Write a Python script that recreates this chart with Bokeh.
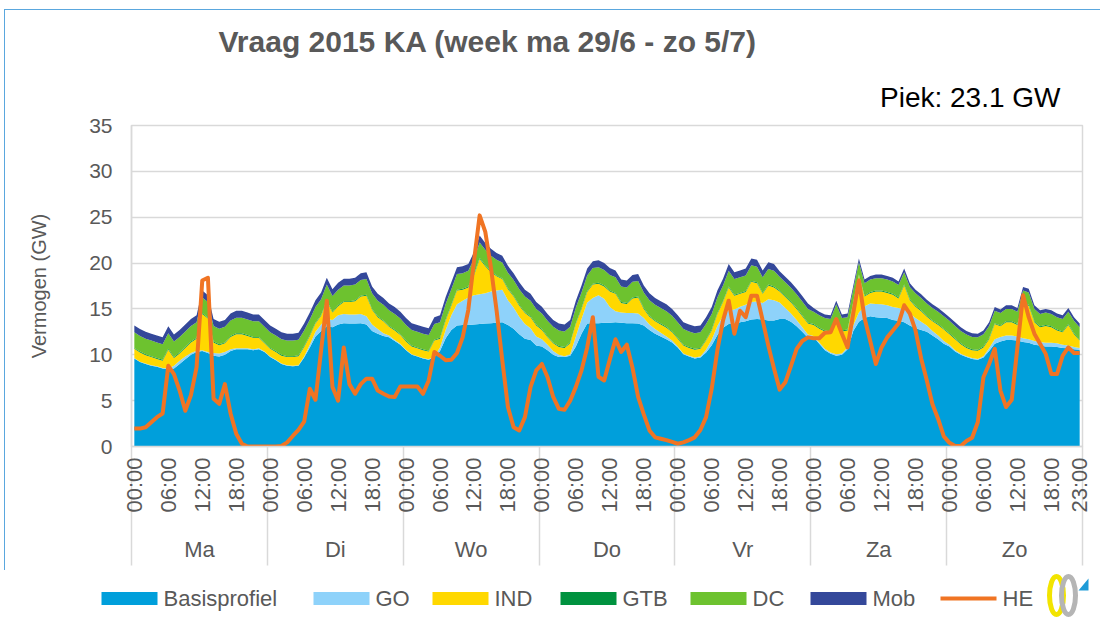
import math
from bokeh.plotting import figure
from bokeh.models import ColumnDataSource, Range1d, FixedTicker, LinearAxis, Title
from bokeh.core.properties import value
from bokeh.embed import file_html
from bokeh.resources import INLINE

# ---------------- data (GW, hourly, Ma 00:00 .. Zo 23:00) ----------------
days = ["Ma", "Di", "Wo", "Do", "Vr", "Za", "Zo"]
tick_hours = ["00:00", "06:00", "12:00", "18:00"]
last_label = "23:00"

basis = [
    9.6, 9.2, 9.0, 8.8, 8.7, 8.5, 8.4, 8.5, 9.0, 9.5, 10.0, 10.3, 10.4, 10.2, 9.9, 9.8, 10.0, 10.4, 10.6, 10.6, 10.6, 10.5, 10.6, 10.3,
    9.75, 9.4, 9.0, 8.8, 8.75, 8.8, 9.7, 10.8, 12.0, 12.6, 13.1, 13.0, 13.3, 13.45, 13.4, 13.4, 13.45, 13.3, 12.6, 12.3, 12.05, 11.9, 11.5, 11.1,
    10.5, 10.0, 9.8, 9.6, 9.45, 9.75, 10.4, 11.8, 12.7, 13.2, 13.25, 13.25, 13.3, 13.35, 13.4, 13.45, 13.5, 13.55, 13.25, 12.85, 12.25, 11.75, 11.6, 11.0,
    10.9, 10.5, 10.0, 9.75, 9.75, 9.9, 10.9, 12.3, 13.4, 13.45, 13.45, 13.5, 13.5, 13.55, 13.5, 13.45, 13.45, 13.4, 13.2, 12.7, 12.3, 12.0, 11.7, 11.35,
    10.8, 10.05, 9.8, 9.6, 9.7, 10.25, 11.05, 12.15, 12.95, 13.35, 13.35, 13.55, 13.65, 13.85, 13.9, 13.85, 13.75, 13.75, 13.9, 13.9, 13.6, 13.1, 12.5, 11.85,
    11.9, 11.2, 10.5, 10.1, 9.9, 10.0, 10.6, 12.6, 13.6, 14.0, 14.2, 14.1, 14.05, 14.0, 13.8, 13.7, 13.55, 13.2, 12.9, 12.7, 12.5, 12.1, 11.7, 11.2,
    10.9, 10.35, 10.0, 9.75, 9.55, 9.45, 9.7, 10.4, 11.2, 11.45, 11.6, 11.6, 11.55, 11.4, 11.3, 11.1, 11.0, 10.9, 10.9, 10.85, 10.75, 10.7, 10.6, 10.55,
]
go = [
    0.05, 0.05, 0.05, 0.05, 0.05, 0.05, 0.1, 0.3, 0.35, 0.3, 0.2, 0.15, 0.1, 0.1, 0.3, 0.35, 0.3, 0.2, 0.1, 0.1, 0.1, 0.1, 0.1, 0.05,
    0.05, 0.05, 0.05, 0.05, 0.05, 0.05, 0.1, 0.3, 0.5, 0.7, 0.8, 0.8, 1.0, 1.0, 1.0, 1.0, 1.0, 0.9, 0.7, 0.5, 0.3, 0.2, 0.1, 0.1,
    0.05, 0.05, 0.05, 0.05, 0.05, 0.1, 0.4, 0.9, 1.6, 2.3, 2.65, 3.0, 3.2, 3.25, 3.3, 3.45, 3.5, 3.55, 2.7, 2.3, 1.9, 1.6, 1.3, 1.0,
    0.8, 0.6, 0.4, 0.25, 0.1, 0.15, 1.1, 1.6, 2.3, 2.75, 3.05, 2.6, 1.7, 1.2, 1.1, 1.1, 1.1, 1.1, 0.8, 0.6, 0.5, 0.4, 0.3, 0.2,
    0.1, 0.1, 0.1, 0.1, 0.1, 0.3, 0.6, 1.0, 1.3, 1.5, 1.6, 1.7, 1.8, 1.9, 1.9, 1.8, 2.3, 2.2, 1.8, 1.2, 0.9, 0.7, 0.5, 0.35,
    0.15, 0.15, 0.15, 0.15, 0.15, 0.15, 0.2, 0.6, 1.0, 1.3, 1.4, 1.45, 1.45, 1.4, 1.4, 1.4, 1.4, 1.3, 1.1, 0.9, 0.7, 0.5, 0.4, 0.3,
    0.2, 0.15, 0.1, 0.1, 0.1, 0.1, 0.15, 0.3, 0.5, 0.5, 0.5, 0.5, 0.45, 0.4, 0.4, 0.4, 0.4, 0.4, 0.4, 0.4, 0.35, 0.3, 0.25, 0.2,
]
ind = [
    1.0, 1.0, 0.9, 0.9, 0.8, 0.8, 2.05, 0.85, 0.8, 0.95, 1.15, 1.3, 3.95, 3.65, 1.15, 0.9, 0.95, 1.35, 1.55, 1.55, 1.35, 1.25, 1.15, 0.9,
    0.85, 0.85, 0.85, 0.9, 0.95, 1.0, 1.05, 0.95, 0.9, 0.95, 1.95, 0.8, 1.0, 1.3, 1.35, 1.45, 1.9, 2.25, 1.6, 1.3, 1.3, 0.95, 1.05, 0.95,
    0.9, 0.85, 0.85, 0.85, 0.85, 1.7, 0.95, 1.05, 1.05, 1.5, 1.2, 1.1, 2.15, 3.85, 2.95, 2.1, 1.55, 1.15, 1.2, 1.2, 1.2, 1.2, 1.2, 1.2,
    1.0, 0.8, 0.85, 0.85, 0.9, 1.2, 1.35, 1.1, 1.15, 1.45, 1.25, 1.35, 1.7, 1.9, 1.05, 1.0, 1.6, 1.75, 1.0, 0.85, 0.85, 0.9, 0.95, 0.9,
    0.85, 0.85, 0.85, 0.85, 0.85, 1.0, 1.0, 1.3, 1.5, 2.5, 1.5, 1.4, 1.4, 2.2, 2.0, 1.0, 1.5, 1.4, 1.2, 1.2, 1.2, 1.2, 1.2, 1.2,
    1.2, 1.5, 1.9, 2.2, 4.0, 2.4, 1.85, 2.45, 4.05, 1.05, 1.15, 1.35, 1.4, 1.35, 1.35, 1.05, 2.6, 1.45, 1.25, 1.15, 0.95, 1.05, 1.15, 1.25,
    1.15, 1.2, 1.05, 0.9, 0.85, 0.9, 0.95, 1.0, 1.65, 1.15, 1.45, 1.45, 1.25, 3.75, 3.65, 2.05, 1.6, 1.85, 1.7, 1.4, 1.35, 2.25, 1.4, 0.8,
]
gtb = [0.1] * 168
dc = ([1.7] * 24) * 4 + [1.7] * 18 + [1.5] * 6 + ([1.35] * 24) * 2
mob = ([0.75] * 24) * 4 + [0.75] * 18 + [0.6] * 6 + ([0.4] * 24) * 2
he = [
    1.95, 1.95, 2.1, 2.65, 3.2, 3.6, 8.8, 7.9, 6.1, 3.9, 5.6, 8.65, 18.1, 18.4, 5.2, 4.65, 6.8, 3.6, 1.4, 0.3, 0.0, 0.0, 0.0, 0.0,
    0.0, 0.0, 0.05, 0.45, 1.15, 1.8, 2.7, 6.3, 5.1, 10.5, 15.9, 6.5, 5.0, 10.8, 6.8, 5.75, 6.8, 7.4, 7.4, 6.1, 5.75, 5.45, 5.4, 6.55,
    6.55, 6.55, 6.55, 5.75, 7.2, 10.3, 9.9, 9.4, 9.45, 10.2, 11.9, 14.9, 20.2, 25.2, 23.4, 19.5, 14.8, 9.4, 4.3, 2.1, 1.75, 3.2, 6.5, 8.3,
    9.0, 7.55, 5.4, 4.1, 4.0, 5.0, 6.5, 8.3, 10.8, 14.1, 7.6, 7.2, 9.5, 11.7, 10.3, 11.1, 8.6, 5.4, 3.5, 1.75, 1.0, 0.85, 0.7, 0.5,
    0.3, 0.45, 0.7, 1.0, 1.8, 3.2, 6.3, 10.5, 13.75, 15.9, 12.3, 14.8, 14.1, 16.45, 16.45, 13.75, 11.0, 8.5, 6.2, 7.0, 8.8, 10.65, 11.5, 11.9,
    11.8, 11.8, 12.4, 12.45, 13.9, 12.3, 10.8, 14.5, 18.1, 14.0, 11.5, 9.0, 10.8, 11.9, 12.65, 13.4, 15.4, 14.5, 12.65, 9.6, 7.2, 4.6, 3.0, 1.1,
    0.4, 0.05, 0.05, 0.6, 0.95, 2.65, 7.55, 9.0, 10.65, 6.1, 4.3, 5.1, 10.8, 16.5, 14.1, 12.3, 11.2, 10.1, 7.9, 7.9, 9.9, 10.8, 10.2, 10.2,
]

series_keys = ["basis", "go", "ind", "gtb", "dc", "mob"]
series_labels = ["Basisprofiel", "GO", "IND", "GTB", "DC", "Mob"]
series_colors = ["#009FDB", "#8ED2FA", "#FFD800", "#00923F", "#6DC22F", "#34489A"]
he_label = "HE"
he_color = "#F07423"

title_text = "Vraag 2015 KA (week ma 29/6 - zo 5/7)"
peak_text = "Piek: 23.1 GW"
y_label = "Vermogen (GW)"

# ---------------- main figure ----------------
FONT = "Liberation Sans"
GREY = "#595959"
GRID = "#d9d9d9"
n = len(basis)
x = list(range(n))
src = ColumnDataSource(dict(x=x, basis=basis, go=go, ind=ind, gtb=gtb, dc=dc, mob=mob, he=he))

p = figure(frame_width=951, frame_height=321, title=None,
           x_range=Range1d(-0.5, n - 0.5), y_range=Range1d(0, 35),
           output_backend="svg", toolbar_location=None,
           min_border_left=126, min_border_right=18, min_border_top=115, min_border_bottom=124,
           background_fill_color="white", border_fill_color="white")
p.styles = {"margin-left": "4px", "margin-top": "9px",
            "border-top": "1px solid #5AA7DE", "border-left": "1px solid #5AA7DE"}

areas = p.varea_stack(stackers=series_keys, x="x", color=series_colors, source=src)
he_line = p.line("x", "he", source=src, color=he_color, line_width=4, line_join="round")

# hour ticks (major, labelled) and day separators (long minor ticks)
tick_pos, tick_txt = [], {}
for d in range(len(days)):
    for j, t in enumerate(tick_hours):
        h = d * 24 + j * 6
        tick_pos.append(h)
        tick_txt[h] = t
tick_pos.append(n - 1)
tick_txt[n - 1] = last_label
sep_pos = [d * 24 - 0.5 for d in range(len(days) + 1)]
SEP_LEN = 119

xa = p.xaxis[0]
xa.ticker = FixedTicker(ticks=tick_pos, minor_ticks=sep_pos)
xa.major_label_overrides = tick_txt
xa.major_label_orientation = math.pi / 2
xa.major_label_text_font = FONT
xa.major_label_text_font_size = "22px"
xa.major_label_text_color = GREY
xa.major_label_standoff = 11 - SEP_LEN
xa.major_tick_line_color = None
xa.minor_tick_line_color = GRID
xa.minor_tick_line_width = 1.5
xa.minor_tick_in = 0
xa.minor_tick_out = SEP_LEN
xa.axis_line_color = GRID
xa.axis_line_width = 1.5

# day names as a second axis below
day_pos = [d * 24 + 11.5 for d in range(len(days))]
day_axis = LinearAxis(ticker=FixedTicker(ticks=day_pos, minor_ticks=[]),
                      major_label_overrides={pos: name for pos, name in zip(day_pos, days)},
                      major_label_text_font=FONT, major_label_text_font_size="22px",
                      major_label_text_color=GREY, major_label_standoff=15,
                      major_tick_line_color=None, minor_tick_line_color=None,
                      axis_line_color=None)
p.add_layout(day_axis, "below")

ya = p.yaxis[0]
ya.ticker = FixedTicker(ticks=[0, 5, 10, 15, 20, 25, 30, 35])
ya.major_label_text_font = FONT
ya.major_label_text_font_size = "21px"
ya.major_label_text_color = GREY
ya.major_label_standoff = 13
ya.major_tick_line_color = None
ya.minor_tick_line_color = None
ya.axis_line_color = GRID
ya.axis_line_width = 1.5
ya.axis_label = y_label
ya.axis_label_text_font = FONT
ya.axis_label_text_font_style = "normal"
ya.axis_label_text_font_size = "20px"
ya.axis_label_text_color = GREY
ya.axis_label_standoff = 36

p.xgrid.visible = False
p.ygrid.grid_line_color = GRID
p.ygrid.grid_line_width = 1.5
p.outline_line_color = GRID
p.outline_line_width = 1.5

# titles (first added sits closest to the frame)
p.add_layout(Title(text=peak_text, align="right", offset=22, standoff=25,
                   text_font=FONT, text_font_size="28px", text_font_style="normal",
                   text_color="#000000"), "above")
p.add_layout(Title(text=title_text, align="left", offset=87, standoff=19,
                   text_font=FONT, text_font_size="30px", text_font_style="bold",
                   text_color=GREY), "above")

# ---------------- legend strip (separate root, pixel units) ----------------
STRIP_W, STRIP_H = 1100, 58
lg = figure(width=STRIP_W, height=STRIP_H, x_range=Range1d(0, STRIP_W), y_range=Range1d(0, STRIP_H),
            output_backend="svg", toolbar_location=None, title=None,
            x_axis_location=None, y_axis_location=None,
            min_border_left=0, min_border_right=0, min_border_top=0, min_border_bottom=0,
            outline_line_color=None, background_fill_color="white", border_fill_color="white")
lg.xgrid.visible = False
lg.ygrid.visible = False

item_left = [101, 313, 432, 560, 690, 810, 940]   # layout: swatch left edges (px)
ROW_Y, SW_W, SW_H, GAP = 30, 56, 13, 6
sw = ColumnDataSource(dict(left=item_left[:6], right=[v + SW_W for v in item_left[:6]],
                           bottom=[ROW_Y - SW_H / 2] * 6, top=[ROW_Y + SW_H / 2] * 6,
                           color=series_colors))
lg.quad(left="left", right="right", bottom="bottom", top="top", fill_color="color",
        line_color=None, source=sw)
lg.segment(x0=[item_left[6]], y0=[ROW_Y], x1=[item_left[6] + SW_W], y1=[ROW_Y],
           line_color=he_color, line_width=4)
lab_src = ColumnDataSource(dict(x=[v + SW_W + GAP for v in item_left], y=[ROW_Y] * 7,
                                text=series_labels + [he_label]))
lg.text(x="x", y="y", text="text", source=lab_src, text_font=value(FONT),
        text_font_size=value("22px"), text_color=GREY, text_baseline="middle", text_align="left")

# small logo mark at the right of the legend row
lg.ellipse(x=[1056], y=[33], width=[14], height=[38], fill_color=None,
           line_color="#F2E400", line_width=5)
lg.ellipse(x=[1068], y=[33], width=[14], height=[38], fill_color=None,
           line_color="#B5B5B5", line_width=5)
lg.patch(x=[1078, 1088, 1088], y=[38, 38, 50], fill_color="#1E9BD7", line_color=None)

open("out.html", "w").write(file_html([p, lg], INLINE))
